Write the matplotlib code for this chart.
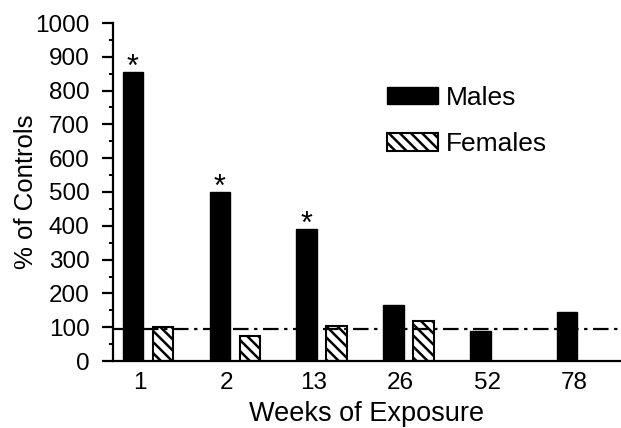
import numpy as np
import matplotlib
matplotlib.use("Agg")
import matplotlib.pyplot as plt
from matplotlib.ticker import MultipleLocator

plt.rcParams['font.family'] = ['Liberation Sans', 'DejaVu Sans']
plt.rcParams['hatch.linewidth'] = 1.8

# 数据
weeks = ['1', '2', '13', '26', '52', '78']
males = [855, 501, 391, 167, 89, 144]
females = [102, 75, 104, 119, np.nan, np.nan]
signif = [True, True, True, False, False, False]
control_level = 95

x = np.arange(len(weeks))
w = 0.235

fig = plt.figure(figsize=(6.21, 4.28), dpi=100)
ax = fig.add_axes([113 / 621, 67 / 428, 508 / 621, 338 / 428])

ax.bar(x - 0.08, males, width=w, color='black', edgecolor='black', label='Males', zorder=2)
ax.bar(x + 0.265, females, width=w, color='white', edgecolor='black', linewidth=1.5,
       hatch='\\\\\\', label='Females', zorder=2)

# 对照组水平
ax.axhline(control_level, color='black', lw=1.6, dashes=(7, 2.5, 1.5, 2.5), zorder=3)

# 显著性星号
for i, m in enumerate(males):
    if signif[i]:
        ax.annotate('*', (x[i] - 0.08, m), xytext=(0, -3), textcoords='offset points',
                    ha='center', va='baseline', fontsize=22)

ax.set_xlim(-0.31, 5.54)
ax.set_ylim(0, 1000)
ax.yaxis.set_major_locator(MultipleLocator(100))
ax.yaxis.set_minor_locator(MultipleLocator(50))
ax.set_xticks(x)
ax.set_xticklabels(weeks)

for s in ['top', 'right']:
    ax.spines[s].set_visible(False)
for s in ['left', 'bottom']:
    ax.spines[s].set_linewidth(1.6)

ax.tick_params(axis='y', which='major', length=8, width=1.6, pad=9, labelsize=17.5)
ax.tick_params(axis='y', which='minor', length=3, width=1.4)
ax.tick_params(axis='x', length=0, pad=8, labelsize=17.5)

ax.set_ylabel('% of Controls', fontsize=18.5, labelpad=-2)
ax.set_xlabel('Weeks of Exposure', fontsize=19.5, labelpad=5)

ax.legend(loc='upper left', bbox_to_anchor=(0.492, 0.885), frameon=False, fontsize=19,
          handlelength=1.95, handleheight=0.65, handletextpad=0.3, labelspacing=0.85)

plt.savefig('out.png', dpi=100)
